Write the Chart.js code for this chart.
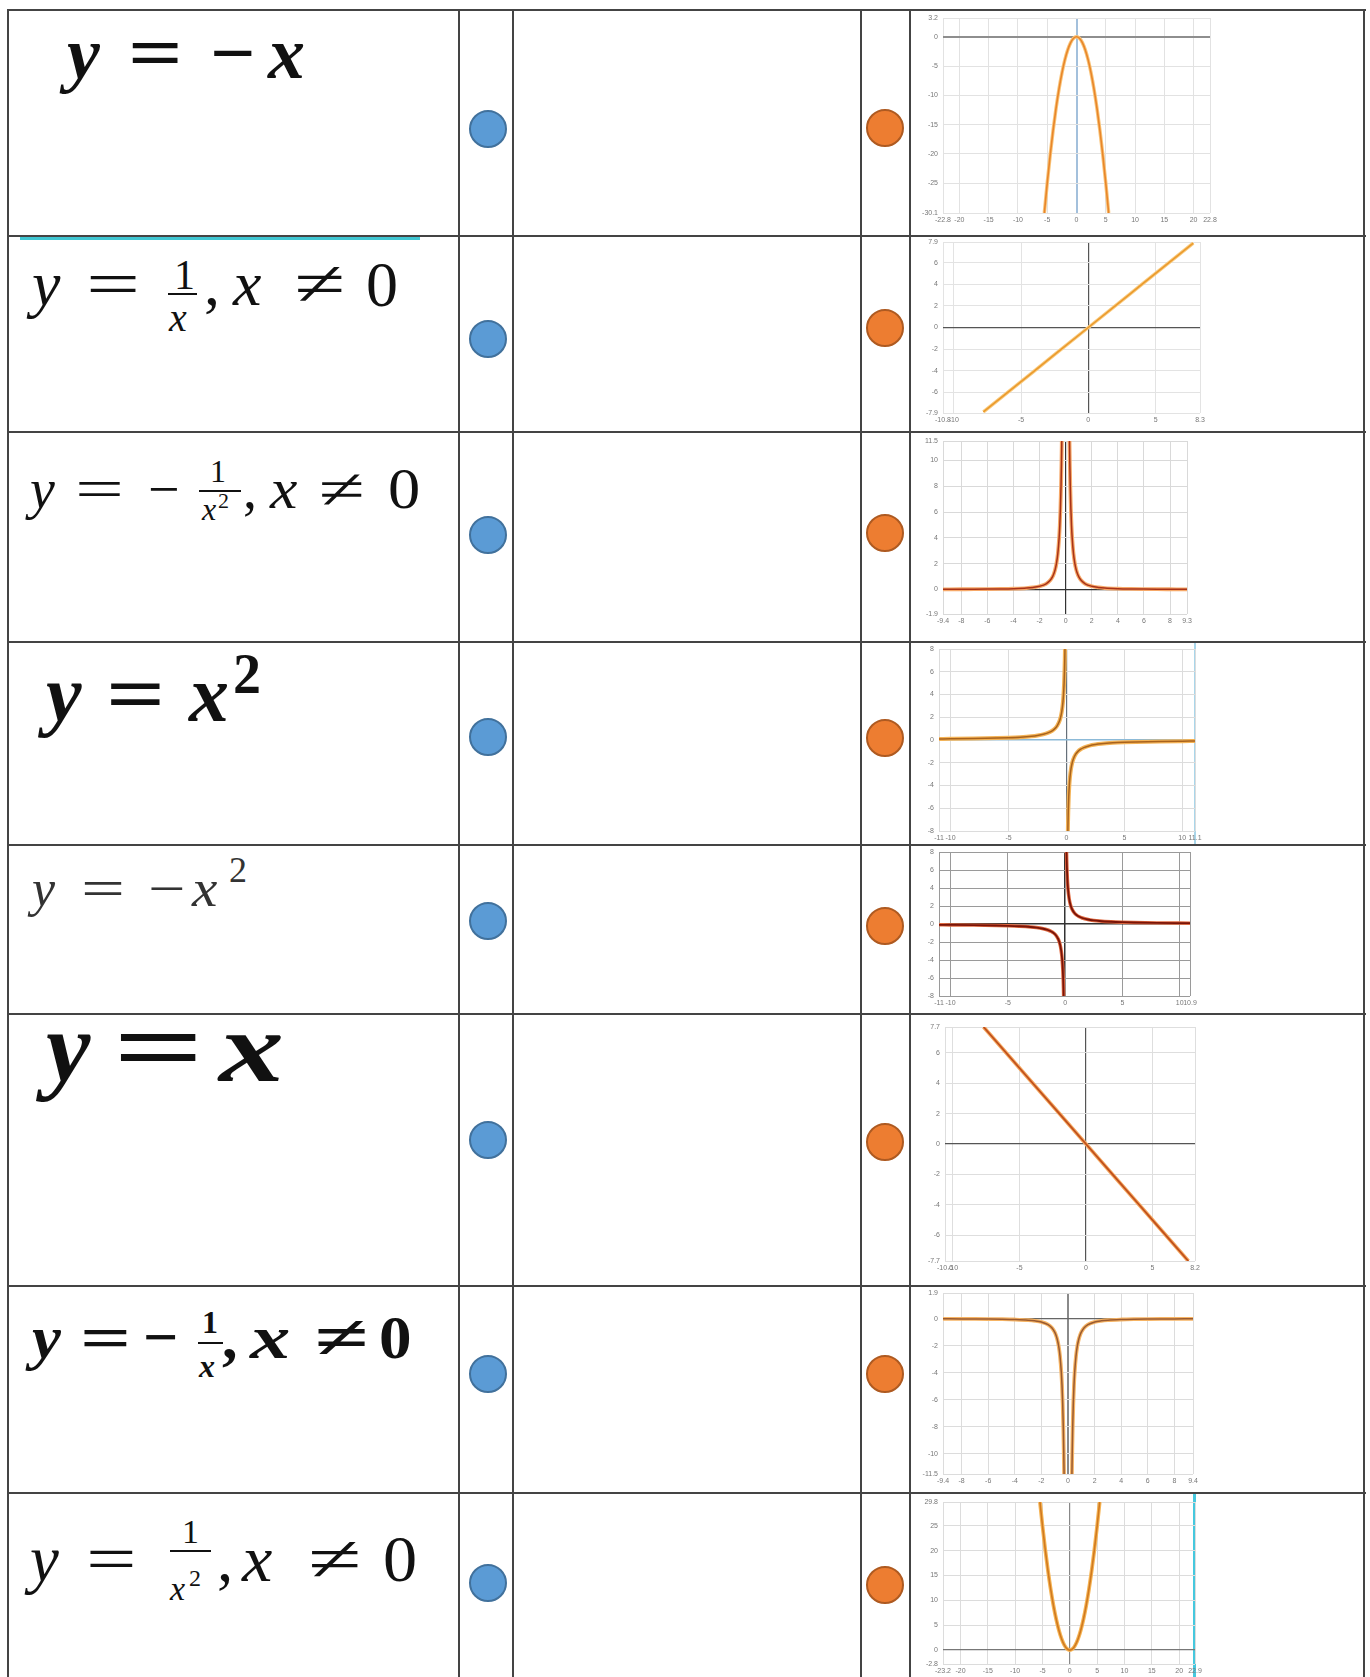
<!DOCTYPE html>
<html><head><meta charset="utf-8"><title>Functions and graphs</title>
<script src="https://cdn.jsdelivr.net/npm/chart.js@4.4.1/dist/chart.umd.min.js"></script>
<style>
html,body{margin:0;padding:0;background:#fff;}
#page{position:relative;width:1370px;height:1677px;overflow:hidden;background:#fff;}
.ln{position:absolute;background:#444;}
.dot{position:absolute;border-radius:50%;box-sizing:border-box;}
.g{position:absolute;font-family:"Liberation Serif","Times New Roman",serif;line-height:1;white-space:nowrap;transform-origin:0 50%;color:#111;}
canvas{position:absolute;}
</style></head><body><div id="page"></div>
<script>
// ---------- data ----------
const c1X = [-5.49,-5,-4.5,-4,-3.5,-3,-2.5,-2,-1.5,-1,-0.5,0,0.5,1,1.5,2,2.5,3,3.5,4,4.5,5,5.49];
const c1Y = [-30.1,-25,-20.25,-16,-12.25,-9,-6.25,-4,-2.25,-1,-0.25,0,-0.25,-1,-2.25,-4,-6.25,-9,-12.25,-16,-20.25,-25,-30.1];
const c1XRange = [-22.8, 22.8], c1YRange = [-30.1, 3.2];
const c1XTicks = [-22.8,-20,-15,-10,-5,0,5,10,15,20,22.8];
const c1YTicks = [-30.1,-25,-20,-15,-10,-5,0,3.2];

const c2X = [-7.8,-4,0,4,7.8];
const c2Y = [-7.8,-4,0,4,7.8];
const c2XRange = [-10.8, 8.3], c2YRange = [-7.9, 7.9];
const c2XTicks = [-10.8,-10,-5,0,5,8.3];
const c2YTicks = [-7.9,-6,-4,-2,0,2,4,6,7.9];

const c3LX = [-9.4,-8,-7,-6,-5,-4,-3,-2.5,-2,-1.5,-1.2,-1,-0.9,-0.8,-0.7,-0.6,-0.5,-0.45,-0.4,-0.35,-0.32,-0.295];
const c3LY = [0.011,0.016,0.02,0.028,0.04,0.063,0.11,0.16,0.25,0.44,0.69,1,1.23,1.56,2.04,2.78,4,4.94,6.25,8.16,9.77,11.5];
const c3RX = [0.295,0.32,0.35,0.4,0.45,0.5,0.6,0.7,0.8,0.9,1,1.2,1.5,2,2.5,3,4,5,6,7,8,9.3];
const c3RY = [11.5,9.77,8.16,6.25,4.94,4,2.78,2.04,1.56,1.23,1,0.69,0.44,0.25,0.16,0.11,0.063,0.04,0.028,0.02,0.016,0.012];
const c3XRange = [-9.4, 9.3], c3YRange = [-1.9, 11.5];
const c3XTicks = [-9.4,-8,-6,-4,-2,0,2,4,6,8,9.3];
const c3YTicks = [-1.9,0,2,4,6,8,10,11.5];

const c4LX = [-11,-10,-8,-6,-5,-4,-3,-2.5,-2,-1.5,-1.2,-1,-0.8,-0.6,-0.5,-0.4,-0.3,-0.25,-0.2,-0.16,-0.14,-0.125];
const c4LY = [0.091,0.1,0.125,0.167,0.2,0.25,0.333,0.4,0.5,0.667,0.833,1,1.25,1.667,2,2.5,3.333,4,5,6.25,7.14,8];
const c4RX = [0.125,0.14,0.16,0.2,0.25,0.3,0.4,0.5,0.6,0.8,1,1.2,1.5,2,2.5,3,4,5,6,8,10,11.1];
const c4RY = [-8,-7.14,-6.25,-5,-4,-3.333,-2.5,-2,-1.667,-1.25,-1,-0.833,-0.667,-0.5,-0.4,-0.333,-0.25,-0.2,-0.167,-0.125,-0.1,-0.09];
const c4XRange = [-11, 11.1], c4YRange = [-8, 8];
const c4XTicks = [-11,-10,-5,0,5,10,11.1];
const c4YTicks = [-8,-6,-4,-2,0,2,4,6,8];

const c5LX = [-11,-10,-8,-6,-5,-4,-3,-2.5,-2,-1.5,-1.2,-1,-0.8,-0.6,-0.5,-0.4,-0.3,-0.25,-0.2,-0.16,-0.14,-0.125];
const c5LY = [-0.091,-0.1,-0.125,-0.167,-0.2,-0.25,-0.333,-0.4,-0.5,-0.667,-0.833,-1,-1.25,-1.667,-2,-2.5,-3.333,-4,-5,-6.25,-7.14,-8];
const c5RX = [0.125,0.14,0.16,0.2,0.25,0.3,0.4,0.5,0.6,0.8,1,1.2,1.5,2,2.5,3,4,5,6,8,10,10.9];
const c5RY = [8,7.14,6.25,5,4,3.333,2.5,2,1.667,1.25,1,0.833,0.667,0.5,0.4,0.333,0.25,0.2,0.167,0.125,0.1,0.092];
const c5XRange = [-11, 10.9], c5YRange = [-8, 8];
const c5XTicks = [-11,-10,-5,0,5,10,10.9];
const c5YTicks = [-8,-6,-4,-2,0,2,4,6,8];

const c6X = [-7.7,-4,0,4,7.7];
const c6Y = [7.7,4,0,-4,-7.7];
const c6XRange = [-10.6, 8.2], c6YRange = [-7.7, 7.7];
const c6XTicks = [-10.6,-10,-5,0,5,8.2];
const c6YTicks = [-7.7,-6,-4,-2,0,2,4,6,7.7];

const c7LX = [-9.4,-8,-7,-6,-5,-4,-3,-2.5,-2,-1.5,-1.2,-1,-0.9,-0.8,-0.7,-0.6,-0.5,-0.45,-0.4,-0.35,-0.32,-0.295];
const c7LY = [-0.011,-0.016,-0.02,-0.028,-0.04,-0.063,-0.11,-0.16,-0.25,-0.44,-0.69,-1,-1.23,-1.56,-2.04,-2.78,-4,-4.94,-6.25,-8.16,-9.77,-11.5];
const c7RX = [0.295,0.32,0.35,0.4,0.45,0.5,0.6,0.7,0.8,0.9,1,1.2,1.5,2,2.5,3,4,5,6,7,8,9.4];
const c7RY = [-11.5,-9.77,-8.16,-6.25,-4.94,-4,-2.78,-2.04,-1.56,-1.23,-1,-0.69,-0.44,-0.25,-0.16,-0.11,-0.063,-0.04,-0.028,-0.02,-0.016,-0.011];
const c7XRange = [-9.4, 9.4], c7YRange = [-11.5, 1.9];
const c7XTicks = [-9.4,-8,-6,-4,-2,0,2,4,6,8,9.4];
const c7YTicks = [-11.5,-10,-8,-6,-4,-2,0,1.9];

const c8X = [-5.46,-5,-4.5,-4,-3.5,-3,-2.5,-2,-1.5,-1,-0.5,0,0.5,1,1.5,2,2.5,3,3.5,4,4.5,5,5.46];
const c8Y = [29.8,25,20.25,16,12.25,9,6.25,4,2.25,1,0.25,0,0.25,1,2.25,4,6.25,9,12.25,16,20.25,25,29.8];
const c8XRange = [-23.2, 22.9], c8YRange = [-2.8, 29.8];
const c8XTicks = [-23.2,-20,-15,-10,-5,0,5,10,15,20,22.9];
const c8YTicks = [-2.8,0,5,10,15,20,25,29.8];

// ---------- layout ----------
const page = document.getElementById('page');
const rowLines = [10, 236, 432, 642, 845, 1014, 1286, 1493];
const colLines = [8, 459, 513, 861, 910, 1364];
function div(cls, css){ const d=document.createElement('div'); d.className=cls; Object.assign(d.style, css); page.appendChild(d); return d; }
rowLines.forEach(y=>div('ln',{left:'8px',top:(y-1)+'px',width:'1358px',height:'2px'}));
colLines.forEach(x=>div('ln',{left:(x-1)+'px',top:'9px',width:'2px',height:'1680px'}));
// cyan selection marks
div('ln',{left:'20px',top:'237px',width:'400px',height:'3px',background:'#3fc6d2'});
div('ln',{left:'1194px',top:'643px',width:'2px',height:'201px',background:'#a9d6ea'});
div('ln',{left:'1193px',top:'1494px',width:'3px',height:'190px',background:'#46c8de'});

// dots
const blueY = [129, 339, 535, 737, 921, 1140, 1374, 1583];
const orangeY = [128, 328, 533, 738, 926, 1142, 1374, 1585];
blueY.forEach(y=>div('dot',{left:(488-19)+'px',top:(y-19)+'px',width:'38px',height:'38px',background:'#5b9bd5',border:'2px solid #41719c'}));
orangeY.forEach(y=>div('dot',{left:(885-19)+'px',top:(y-19)+'px',width:'38px',height:'38px',background:'#ed7d31',border:'2px solid #ae5a21'}));

// ---------- formulas ----------
function glyph(t, x, base, size, st, sx, color){
  const d = div('g', {left:x+'px', top:(base-0.8375*size)+'px', fontSize:size+'px',
    fontStyle: st.includes('i')?'italic':'normal', fontWeight: st.includes('b')?'bold':'normal',
    transform: 'scaleX('+(sx||1)+')'});
  if(color) d.style.color=color;
  d.textContent = t;
}
function fbar(x1,x2,y,h,color){ div('ln',{left:x1+'px',top:(y-h/2)+'px',width:(x2-x1)+'px',height:h+'px',background:color||'#111'}); }

const formulas = [
  [['y',67,78,74,'bi',1],['=',128,78,74,'b',1.3],['−',210,78,74,'b',1.08],['x',268,78,74,'bi',1]],
  [['y',32,306,64,'i',1],['=',86,306,64,'r',1.5],['1',174,289,42,'r',1],['x',169,331,40,'i',1],[',',204,306,64,'r',1],['x',233,306,64,'i',1],['≠',294,306,64,'r',1.45],['0',366,307,64,'r',1]],
  [['y',30,508,56,'i',1],['=',75,508,56,'r',1.55],['−',148,508,56,'r',1.0],['1',210,482,32,'r',1],['x',202,520,32,'i',1],['2',218,508,22,'r',1],[',',243,508,56,'r',1],['x',270,508,56,'i',1.1],['≠',319,508,56,'r',1.5],['0',388,508,56,'r',1.15]],
  [['y',46,721,80,'bi',1],['=',106,721,80,'b',1.3],['x',189,721,80,'bi',1],['2',233,693,56,'b',1]],
  [['y',32,907,52,'i',1],['=',81,907,52,'r',1.5],['−',148,907,52,'r',1.27],['x',192,907,52,'i',1.1],['2',229,882,36,'r',1]],
  [['y',46,1082,100,'bi',1],['=',113,1082,100,'b',1.6],['x',219,1082,100,'bi',1.3]],
  [['y',32,1358,62,'bi',1.05],['=',80,1358,62,'b',1.45],['−',143,1358,62,'b',1.0],['1',202,1333,32,'b',1],['x',199,1377,32,'bi',1],[',',222,1358,62,'b',1],['x',250,1358,62,'bi',1.3],['≠',314,1358,62,'b',1.6],['0',379,1358,62,'b',1.05]],
  [['y',30,1581,65,'i',1],['=',86,1581,65,'r',1.38],['1',182,1543,34,'r',1],['x',170,1600,34,'i',1],['2',189,1586,24,'r',1],[',',217,1581,65,'r',1],['x',242,1581,65,'i',1.05],['≠',308,1581,65,'r',1.5],['0',383,1581,65,'r',1.05]]
];
formulas.forEach((f,k)=>f.forEach(p=>glyph(p[0],p[1],p[2],p[3],p[4],p[5], k===4?'#333':null)));
fbar(168,197,294,1.5);
fbar(199,241,491,1.5);
fbar(198,223,1343,2.5);
fbar(170,211,1551,1.5);

// ---------- charts ----------
const charts = [
  {box:[943,18,1210,213], xr:c1XRange, yr:c1YRange, xt:c1XTicks, yt:c1YTicks, br:[[c1X,c1Y]],
   st:{grid:'#e2e2e2',gridW:1,vZero:'#a3c0dc',vZeroW:2,hZero:'#8e8e8e',hZeroW:2,glow:'#f9c47a',glowW:3.5,core:'#e8862a',coreW:1.6}},
  {box:[943,242,1200,413], xr:c2XRange, yr:c2YRange, xt:c2XTicks, yt:c2YTicks, br:[[c2X,c2Y]],
   st:{grid:'#e3e3e3',gridW:1,vZero:'#555',vZeroW:1.2,hZero:'#555',hZeroW:1.2,glow:'#f9cc82',glowW:3.5,core:'#eb9a2c',coreW:1.6}},
  {box:[943,441,1187,614], xr:c3XRange, yr:c3YRange, xt:c3XTicks, yt:c3YTicks, br:[[c3LX,c3LY],[c3RX,c3RY]],
   st:{grid:'#d9d9d9',gridW:1,vZero:'#333',vZeroW:1.2,hZero:'#333',hZeroW:1.2,glow:'#f6a868',glowW:3.8,core:'#a83218',coreW:1.5}},
  {box:[939,649,1195,831], xr:c4XRange, yr:c4YRange, xt:c4XTicks, yt:c4YTicks, br:[[c4LX,c4LY],[c4RX,c4RY]],
   st:{grid:'#dcdcdc',gridW:1,vZero:'#66707a',vZeroW:1.2,hZero:'#8cbad8',hZeroW:1.5,glow:'#f4b356',glowW:4,core:'#a8621c',coreW:1.5}},
  {box:[939,852,1190,996], xr:c5XRange, yr:c5YRange, xt:c5XTicks, yt:c5YTicks, br:[[c5LX,c5LY],[c5RX,c5RY]],
   st:{grid:'#9a9a9a',gridW:1,vZero:'#333',vZeroW:1.5,hZero:'#333',hZeroW:1.5,glow:'#e06a40',glowW:3.5,core:'#7a1408',coreW:1.8}},
  {box:[945,1027,1195,1261], xr:c6XRange, yr:c6YRange, xt:c6XTicks, yt:c6YTicks, br:[[c6X,c6Y]],
   st:{grid:'#dedede',gridW:1,vZero:'#555',vZeroW:1.2,hZero:'#555',hZeroW:1.2,glow:'#f5a860',glowW:3.8,core:'#c0501c',coreW:1.8}},
  {box:[943,1293,1193,1474], xr:c7XRange, yr:c7YRange, xt:c7XTicks, yt:c7YTicks, br:[[c7LX,c7LY],[c7RX,c7RY]],
   st:{grid:'#dcdcdc',gridW:1,vZero:'#8a8a8a',vZeroW:2,hZero:'#666',hZeroW:1.2,glow:'#f6b464',glowW:3.8,core:'#9a5a30',coreW:1.5}},
  {box:[943,1502,1195,1664], xr:c8XRange, yr:c8YRange, xt:c8XTicks, yt:c8YTicks, br:[[c8X,c8Y]],
   st:{grid:'#dcdcdc',gridW:1,vZero:'#888',vZeroW:1.2,hZero:'#777',hZeroW:1.2,glow:'#f6b454',glowW:3.8,core:'#d07a20',coreW:1.6}}
];

function fmt(v){ return String(v); }
charts.forEach(spec=>{
  const [L,T,R,B] = spec.box;
  const CL = 912, CT = T-8, CW = R+14-CL, CH = B+14-CT;
  const cv = document.createElement('canvas');
  cv.width = CW; cv.height = CH;
  Object.assign(cv.style,{left:CL+'px',top:CT+'px',width:CW+'px',height:CH+'px'});
  page.appendChild(cv);
  const st = spec.st;
  const datasets = [];
  spec.br.forEach(([xs,ys])=>{
    const pts = xs.map((x,i)=>({x:x, y:ys[i]}));
    datasets.push({data:pts, order:2, showLine:true, borderColor:st.glow, borderWidth:st.glowW, pointRadius:0, cubicInterpolationMode:'monotone', fill:false});
    datasets.push({data:pts, order:1, showLine:true, borderColor:st.core, borderWidth:st.coreW, pointRadius:0, cubicInterpolationMode:'monotone', fill:false});
  });
  const tickFont = {size:7, family:'"Liberation Sans", Arial, sans-serif'};
  new Chart(cv, {
    type:'scatter',
    data:{datasets},
    options:{
      responsive:false, animation:false, devicePixelRatio:1, events:[],
      layout:{padding:{left:0, top:T-CT, right:CW-(R-CL), bottom:0}},
      plugins:{legend:{display:false}, tooltip:{enabled:false}},
      scales:{
        x:{type:'linear', position:'bottom', min:spec.xr[0], max:spec.xr[1],
          afterBuildTicks:s=>{ s.ticks = spec.xt.map(v=>({value:v})); },
          afterFit:s=>{ s.height = CH-(B-CT); s.paddingLeft=0; s.paddingRight=0; s.paddingTop=0; s.paddingBottom=0; },
          grid:{drawTicks:false, color:c=>(c.tick&&c.tick.value===0)?st.vZero:st.grid, lineWidth:c=>(c.tick&&c.tick.value===0)?st.vZeroW:st.gridW},
          border:{display:false},
          ticks:{autoSkip:false, maxRotation:0, padding:3, font:tickFont, color:'#777', callback:v=>fmt(v)}},
        y:{type:'linear', position:'left', min:spec.yr[0], max:spec.yr[1],
          afterBuildTicks:s=>{ s.ticks = spec.yt.map(v=>({value:v})); },
          afterFit:s=>{ s.width = L-CL; s.paddingLeft=0; s.paddingRight=0; s.paddingTop=0; s.paddingBottom=0; },
          grid:{drawTicks:false, color:c=>(c.tick&&c.tick.value===0)?st.hZero:st.grid, lineWidth:c=>(c.tick&&c.tick.value===0)?st.hZeroW:st.gridW},
          border:{display:false},
          ticks:{autoSkip:false, padding:5, font:tickFont, color:'#777', callback:v=>fmt(v)}}
      }
    }
  });
});
</script></body></html>
